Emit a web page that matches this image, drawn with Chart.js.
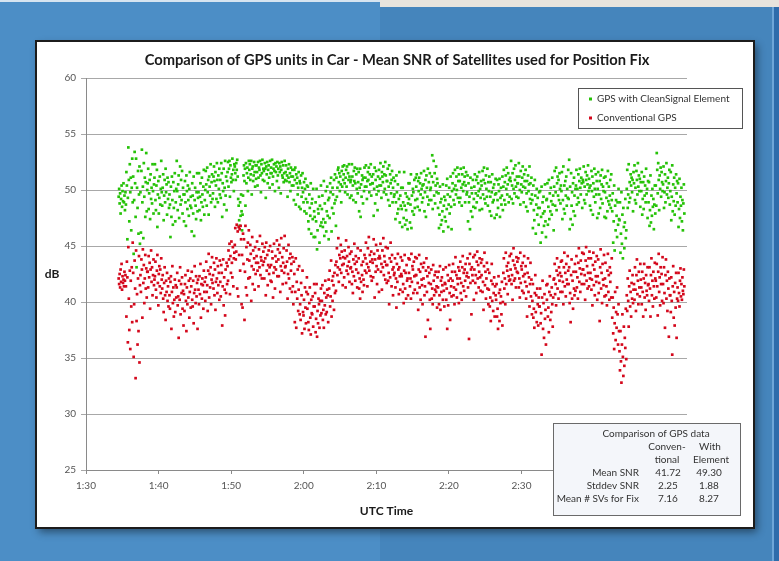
<!DOCTYPE html>
<html>
<head>
<meta charset="utf-8">
<script src="https://cdn.jsdelivr.net/npm/chart.js@4.4.1/dist/chart.umd.min.js"></script>
<style>
  html, body { margin: 0; padding: 0; background: #4a8cc4; }
  canvas { display: block; }
</style>
</head>
<body>
<canvas id="snrChart" width="779" height="561"></canvas>
<script>
const chartTitle = 'Comparison of GPS units in Car - Mean SNR of Satellites used for Position Fix';
const seriesNames = ['GPS with CleanSignal Element', 'Conventional GPS'];

// log starts 1:34:30 UTC (minutes after midnight), one sample every 4 s
const startMinute = 94.5;
const stepMinute = 1 / 15;

// mean SNR (dB), one line per minute of the log
const cleanSnr = [
  49.4,50.1,48.8,49.7,47.9,49.2,50.4,48.5,49.9,49.0,50.6,48.9,49.5,48.2,49.8,
  48.7,51.6,50.4,45.6,49.3,53.8,50.9,47.2,52.3,49.8,51.1,46.4,50.2,52.8,48.9,
  51.2,44.3,49.1,53.4,50.6,47.6,52.8,43.1,50.2,48.4,51.7,46.1,49.6,52.1,45.2,
  49.8,46.2,51.7,53.6,48.9,50.3,45.7,52.4,49.4,51.1,47.6,50.7,53.3,48.1,50.0,
  50.6,51.9,48.3,49.7,50.9,47.4,51.4,49.2,50.2,48.8,52.3,49.9,47.9,50.5,51.1,
  52.3,49.1,48.2,50.4,51.8,46.7,49.6,50.8,47.9,49.3,51.2,48.7,50.1,52.6,49.8,
  48.6,50.2,51.4,47.3,49.5,50.9,48.9,51.9,49.8,50.5,47.8,51.1,49.2,50.7,48.4,
  49.6,48.7,45.8,50.3,47.6,51.2,49.1,46.9,50.7,48.4,49.9,51.5,47.2,48.9,50.1,
  52.6,49.9,48.2,50.5,51.3,47.5,49.4,52.1,48.7,50.9,49.1,51.7,47.9,50.2,49.6,
  47.2,49.6,50.8,48.9,46.8,51.3,49.9,48.3,50.4,49.1,47.7,50.1,51.6,48.6,49.4,
  48.4,46.3,50.6,49.5,47.9,51.2,45.9,49.1,50.2,48.6,47.4,49.8,51.5,48.1,49.3,
  49.8,51.5,48.2,49.4,50.6,47.3,48.9,51.1,49.6,48.5,50.3,51.8,47.8,49.1,50.0,
  51.7,50.5,48.6,52.0,49.8,50.9,47.8,51.2,50.3,49.5,52.3,48.9,50.7,51.4,49.2,
  49.7,51.2,52.1,50.8,48.5,51.6,50.4,49.2,52.4,50.9,48.9,51.3,50.1,51.9,49.6,
  50.9,49.3,52.4,51.5,47.6,50.6,49.9,51.9,48.7,50.2,52.6,49.5,51.2,48.2,50.8,
  51.6,52.5,50.3,51.9,52.6,49.4,52.2,51.1,50.7,51.4,52.8,50.9,51.8,49.9,52.3,
  52.1,51.5,50.9,52.4,51.8,52.7,51.2,49.2,48.6,47.3,46.8,48.9,47.7,49.6,48.1,
  46.4,47.8,49.5,51.3,52.2,50.8,51.9,48.6,52.4,50.6,51.5,52.0,49.9,51.1,52.6,
  51.8,52.3,50.9,51.4,52.6,49.6,51.9,52.1,50.8,51.3,52.5,51.6,50.3,52.2,51.0,
  52.2,51.6,50.4,52.5,51.1,52.0,51.8,52.6,51.3,49.8,52.3,51.5,52.7,50.9,51.9,
  51.7,50.8,52.4,51.9,49.3,52.1,51.4,52.5,50.6,51.8,52.2,51.1,50.2,52.6,51.5,
  52.0,51.5,52.7,50.5,51.2,51.9,52.3,51.7,49.9,52.4,51.6,52.1,50.8,52.5,51.3,
  51.9,50.2,52.4,51.6,52.1,49.7,51.8,52.5,51.3,51.1,52.2,50.7,51.5,52.6,50.9,
  51.6,52.2,50.8,51.3,49.4,51.9,51.1,52.3,50.7,51.5,49.9,52.0,51.2,50.4,51.8,
  51.2,50.4,49.1,51.8,50.9,52.0,48.7,51.4,50.6,51.1,49.6,50.2,51.6,48.5,50.8,
  50.6,48.3,51.3,49.4,50.2,51.5,49.8,48.9,50.7,48.1,50.1,51.0,49.2,47.9,50.4,
  48.9,50.3,47.2,46.5,49.6,48.4,47.7,50.6,46.1,48.8,49.2,47.4,50.1,45.8,48.1,
  47.6,45.8,48.9,47.2,50.1,44.7,46.4,48.3,47.9,49.4,45.3,48.6,46.8,50.4,47.1,
  48.3,49.5,46.7,47.4,50.8,45.9,48.8,47.1,49.9,46.3,48.1,50.3,47.7,49.1,45.6,
  49.3,47.5,50.6,49.8,51.1,46.3,48.4,50.2,49.6,47.9,50.9,48.8,51.4,49.1,46.8,
  51.1,49.4,50.2,51.8,52.0,50.7,51.5,49.9,51.2,50.5,48.9,51.7,50.3,52.1,50.9,
  51.4,52.2,50.6,49.8,51.1,51.8,50.3,52.1,49.6,51.5,50.9,52.3,51.2,49.3,50.7,
  50.9,49.5,52.3,51.2,50.4,49.1,51.7,50.8,52.0,50.6,48.9,51.4,50.1,51.9,49.7,
  50.7,51.6,48.1,50.2,51.9,47.6,50.5,49.4,51.3,50.9,48.8,51.1,49.9,52.0,50.3,
  51.1,52.2,50.3,49.2,50.8,51.6,50.9,52.0,49.8,51.4,50.5,52.3,49.5,51.2,50.6,
  50.6,51.4,47.7,50.1,52.0,48.8,50.9,51.7,49.6,50.3,48.2,51.2,49.9,51.8,50.4,
  51.0,52.4,50.4,49.3,51.6,51.2,50.7,52.1,49.8,51.4,50.1,52.5,51.3,49.6,50.8,
  50.8,51.9,49.1,50.3,52.2,48.6,51.4,50.6,49.7,50.9,51.7,48.9,50.2,51.1,49.4,
  49.6,50.8,47.4,48.9,51.3,49.8,47.9,50.5,48.3,49.2,51.6,47.1,49.5,48.6,50.2,
  48.3,46.7,50.2,48.9,47.5,51.6,48.6,46.9,49.7,48.2,47.3,49.4,46.5,48.8,50.6,
  49.2,50.6,47.1,48.7,51.4,46.6,49.5,48.1,50.1,49.8,47.8,50.9,48.4,49.1,51.1,
  50.3,51.4,49.2,48.5,50.8,49.9,51.1,48.2,50.6,49.6,51.5,50.1,48.9,50.4,49.3,
  50.5,51.7,48.1,49.8,50.9,47.6,51.3,50.2,49.4,51.9,48.7,50.7,49.1,51.5,50.0,
  50.2,49.1,51.2,53.1,48.3,50.7,52.6,49.5,51.5,48.8,50.4,52.1,49.8,51.0,50.6,
  48.4,49.7,46.6,47.8,50.3,48.9,46.9,49.2,47.3,48.1,50.5,46.3,48.6,49.4,47.6,
  49.1,47.2,50.4,48.3,51.0,49.6,46.7,48.7,50.2,47.9,49.4,51.2,48.5,46.5,49.9,
  50.6,51.5,49.1,50.1,48.7,51.8,50.4,49.6,51.2,50.0,52.0,49.3,50.8,51.4,48.9,
  50.8,49.3,51.9,50.2,48.6,51.4,50.5,49.9,52.0,50.7,51.2,48.9,50.4,51.6,49.6,
  49.8,51.3,47.2,50.6,48.9,49.4,46.5,51.1,48.1,50.2,49.7,47.6,50.9,48.5,49.2,
  50.3,51.4,48.4,49.7,50.9,48.9,51.2,49.5,50.6,49.9,51.6,48.2,50.1,49.3,50.8,
  50.4,48.3,51.7,49.6,50.9,52.0,49.2,50.6,48.8,51.3,50.1,49.4,51.9,48.6,50.7,
  49.9,51.2,48.1,49.4,50.7,47.7,49.8,51.4,48.9,50.2,49.1,50.5,47.5,49.6,51.0,
  49.7,47.8,50.9,49.1,48.4,50.5,49.9,51.0,47.6,49.3,50.2,48.7,49.5,51.2,48.2,
  50.3,51.8,49.1,50.7,48.7,51.3,50.1,52.0,49.6,50.5,51.5,48.9,50.9,49.4,51.1,
  50.8,52.6,49.2,50.4,51.5,48.8,50.1,51.9,49.7,50.9,52.2,50.3,49.4,51.2,50.6,
  50.6,49.3,52.4,51.2,50.0,48.7,51.7,50.5,49.8,51.1,52.1,50.3,48.9,51.4,50.8,
  50.2,51.8,48.5,49.7,50.8,48.1,51.3,49.9,50.5,52.1,49.2,50.6,48.8,51.1,49.6,
  49.1,46.6,50.4,48.2,47.3,50.9,49.5,46.1,48.7,50.1,47.8,49.3,48.4,46.9,49.8,
  48.4,49.9,45.3,47.6,50.3,46.2,48.9,47.9,49.4,46.8,48.1,50.5,47.2,45.8,49.1,
  49.2,50.6,46.9,48.5,50.9,47.4,49.7,48.1,50.2,49.0,47.8,51.1,48.7,49.5,46.4,
  50.3,51.7,48.6,49.8,52.0,48.2,50.6,51.2,49.5,50.9,49.1,51.5,50.1,48.8,50.4,
  49.9,51.6,47.4,49.1,52.1,48.3,50.4,47.9,50.8,49.5,51.2,48.6,50.1,49.3,51.8,
  49.2,52.7,46.5,50.3,47.4,51.5,48.6,49.8,46.9,50.6,48.1,51.1,49.5,47.7,50.1,
  50.4,51.8,48.7,50.1,49.3,51.4,48.9,50.8,51.9,50.2,49.6,51.1,50.6,48.4,50.9,
  50.7,52.1,49.1,50.3,48.8,51.6,50.9,49.6,51.3,50.5,52.2,49.9,51.0,50.2,48.6,
  50.4,48.2,51.7,49.9,51.2,47.8,50.6,49.4,51.9,50.1,48.9,51.4,49.6,50.8,47.5,
  50.1,51.6,47.9,49.6,50.8,48.4,51.3,49.2,50.5,51.8,48.8,50.3,49.9,51.1,47.6,
  49.8,51.2,47.5,49.3,50.6,48.1,51.7,49.0,50.3,48.7,49.5,50.9,48.4,51.4,49.1,
  48.1,49.7,45.3,47.2,50.4,44.6,48.6,46.4,49.1,47.7,45.8,48.9,46.9,50.1,47.4,
  47.3,48.9,44.4,46.1,49.8,45.2,47.8,43.9,48.4,46.7,44.8,47.1,49.2,45.7,46.4,
  50.1,51.8,48.4,49.6,52.3,48.9,50.7,49.3,51.4,50.4,51.1,49.8,50.9,48.1,51.6,
  50.6,52.2,49.1,50.2,48.8,51.7,50.9,49.6,52.4,50.3,51.3,49.9,51.0,48.5,50.7,
  49.9,51.6,47.8,49.2,50.7,48.3,51.2,49.5,50.4,48.9,51.9,49.7,50.1,47.5,50.8,
  48.9,50.7,46.8,48.2,51.3,47.1,49.5,47.7,50.1,48.5,49.2,46.5,48.7,50.4,47.9,
  50.4,48.6,53.3,51.8,49.7,52.4,50.9,48.2,51.3,50.1,52.0,49.4,51.6,50.7,49.9,
  50.5,52.1,48.4,49.8,51.4,48.9,50.8,52.4,49.6,50.2,51.1,49.3,50.6,51.8,48.7,
  49.9,51.6,47.3,49.4,52.2,48.1,50.5,49.0,51.1,47.8,50.2,48.6,51.4,49.7,50.8,
  48.9,50.6,46.7,48.3,51.0,47.5,49.4,48.6,50.2,47.2,49.1,46.4,48.8,50.5,47.9
];

const convSnr = [
  42.1,41.6,42.5,41.3,42.9,41.8,43.4,41.1,42.3,41.7,42.0,41.4,42.7,41.9,42.4,
  41.4,38.7,43.6,42.2,36.4,44.9,40.3,37.5,42.8,35.8,41.9,39.6,43.1,38.2,45.3,
  42.6,35.1,39.8,43.7,41.2,33.2,44.6,38.3,40.7,36.2,42.1,37.4,44.1,34.6,41.5,
  42.4,40.9,43.8,42.9,38.6,44.7,41.7,43.3,39.9,42.1,44.2,41.2,43.0,40.4,42.7,
  42.7,41.3,44.1,42.2,43.5,39.4,42.9,44.6,41.8,43.1,40.6,42.4,43.8,41.5,42.0,
  42.3,43.6,41.1,40.4,42.8,44.2,41.7,39.7,42.5,43.2,41.4,42.9,40.8,43.9,42.0,
  41.2,42.4,40.3,39.1,41.7,43.1,40.6,38.4,41.9,40.9,42.6,40.1,41.4,39.6,42.1,
  40.6,39.4,41.8,42.3,37.6,40.9,43.2,39.9,41.3,38.7,40.2,42.0,39.1,41.5,40.4,
  41.3,42.6,39.7,40.5,36.8,41.9,40.2,43.1,38.9,41.6,40.8,42.2,39.4,41.0,37.9,
  40.7,39.2,41.6,42.4,40.1,37.4,41.3,39.8,42.8,40.4,41.9,38.6,40.9,42.1,39.5,
  41.4,42.7,40.2,39.6,41.9,38.1,40.8,43.2,41.1,39.9,42.3,40.5,41.7,37.6,42.0,
  41.1,39.8,42.3,40.7,43.4,38.6,41.6,40.3,42.1,41.5,39.4,42.8,40.9,41.8,40.1,
  42.2,43.6,40.9,41.5,39.2,42.8,44.3,40.4,42.5,41.3,43.1,39.8,42.0,44.0,41.7,
  42.4,41.2,43.5,40.6,42.9,39.3,41.8,43.9,42.1,40.8,43.2,41.5,42.6,40.2,43.7,
  41.8,40.5,43.3,42.6,37.9,41.4,43.8,39.7,42.2,41.1,38.8,42.9,40.8,43.5,41.6,
  43.2,41.9,44.6,43.8,45.2,40.7,44.1,42.6,45.4,43.5,42.2,44.9,41.4,43.9,44.4,
  45.1,46.6,43.8,44.5,46.9,41.2,46.3,40.5,46.7,44.2,46.5,42.8,46.8,45.6,39.8,
  44.2,39.5,46.1,43.4,45.6,38.4,42.7,46.8,41.3,44.9,40.6,43.8,45.3,42.1,46.4,
  43.7,42.2,45.1,44.3,40.1,43.2,45.8,41.6,44.6,42.9,43.9,41.1,44.9,42.5,43.5,
  44.1,45.4,42.8,43.5,41.4,44.7,43.1,45.9,42.4,44.0,43.7,42.1,45.2,43.3,44.5,
  43.6,42.1,44.9,43.9,40.6,45.3,42.8,44.2,41.5,43.3,44.6,42.5,43.1,45.0,41.9,
  43.3,41.8,44.5,43.9,40.4,42.6,45.2,43.1,41.2,44.1,42.9,43.6,45.5,42.3,44.7,
  43.8,42.3,45.1,44.4,40.9,43.2,45.7,42.8,44.0,41.6,43.5,44.8,42.6,45.9,43.1,
  43.2,41.7,44.6,43.6,40.3,42.5,45.1,42.1,43.9,41.2,44.3,42.8,43.4,40.9,44.0,
  41.4,39.8,43.6,42.5,38.2,40.9,43.9,37.7,41.8,40.3,42.9,39.2,41.1,43.2,38.9,
  39.8,38.4,41.7,40.6,37.2,42.8,39.1,38.8,40.2,37.6,41.3,39.5,38.1,40.9,42.2,
  39.4,40.7,38.2,37.5,39.9,41.3,38.6,37.1,40.2,39.0,38.9,40.5,37.8,39.6,41.6,
  39.6,40.8,37.3,38.5,41.6,36.9,39.2,38.1,40.3,39.8,37.7,40.1,38.8,41.2,39.0,
  40.1,41.5,38.4,39.3,37.7,40.8,39.7,41.9,38.9,40.4,39.1,41.1,40.6,38.2,42.0,
  41.2,42.8,39.6,40.5,43.7,38.7,41.9,40.1,42.3,41.5,39.3,42.6,40.8,43.3,41.0,
  43.6,44.8,42.4,43.1,45.7,41.8,44.2,42.9,43.9,45.1,42.6,44.5,43.3,41.5,44.0,
  43.4,42.2,44.6,43.9,41.3,45.5,42.8,44.1,43.2,42.5,44.9,43.6,41.8,44.3,43.0,
  43.1,44.5,41.6,42.7,40.8,43.8,42.3,45.2,43.4,41.9,44.1,42.9,43.6,41.3,44.8,
  42.6,43.9,41.2,42.1,40.3,44.6,41.8,43.3,42.4,40.9,43.6,42.0,41.5,44.2,42.8,
  43.9,45.3,42.6,43.4,41.4,44.8,43.1,45.8,42.8,44.2,43.6,42.3,44.5,41.9,43.8,
  43.5,42.2,45.6,44.3,40.4,43.8,42.7,45.1,43.2,41.6,44.6,42.9,43.9,40.9,44.1,
  43.9,45.2,42.7,43.4,41.1,44.6,43.1,45.7,42.4,44.1,43.6,42.0,44.9,43.3,41.7,
  43.3,44.8,41.9,42.6,39.8,43.9,42.2,45.3,43.6,41.4,44.2,42.9,40.6,43.1,42.4,
  42.6,43.9,41.3,42.1,39.5,43.4,41.8,44.3,42.9,40.7,43.1,42.3,41.1,44.0,42.5,
  42.3,43.7,40.9,41.6,39.9,42.8,44.2,41.2,42.6,40.3,43.3,41.9,42.1,40.6,43.9,
  42.6,43.8,41.4,42.1,40.3,44.3,41.8,43.2,42.9,40.8,43.6,42.3,41.1,44.0,42.4,
  42.4,43.9,40.8,41.7,39.3,42.9,44.2,41.3,42.7,40.2,43.4,42.0,41.5,39.8,43.1,
  42.1,43.5,40.6,41.4,36.9,42.8,43.9,40.9,42.3,38.4,43.1,41.7,42.6,40.2,37.6,
  41.6,42.9,40.3,41.2,39.8,43.3,41.9,40.6,42.4,41.1,42.7,40.9,41.4,39.5,42.2,
  41.3,42.7,39.8,40.6,43.2,39.3,41.9,40.9,42.2,41.5,40.2,42.9,41.0,39.6,41.7,
  41.6,43.1,40.2,41.2,37.6,42.4,39.7,41.9,43.3,40.8,38.4,42.1,41.4,40.5,42.7,
  41.9,43.4,40.6,41.3,39.8,42.7,44.0,41.1,42.4,40.4,42.1,41.6,43.1,39.9,42.8,
  42.1,43.6,40.8,41.7,40.2,43.1,44.1,41.4,42.6,41.0,42.9,41.9,43.4,40.5,42.3,
  42.6,43.9,41.3,42.2,36.7,43.4,44.3,41.7,42.9,38.9,43.1,42.4,41.9,44.0,40.2,
  42.9,44.2,41.7,42.4,40.8,43.6,44.5,42.1,43.3,41.3,42.7,43.9,42.2,41.0,43.5,
  42.4,43.8,40.9,41.8,39.3,43.2,44.4,41.5,42.7,40.3,42.1,43.5,41.2,42.9,39.8,
  41.1,42.6,39.6,40.4,38.3,41.9,43.4,40.1,41.6,39.2,40.8,42.2,38.7,41.4,40.6,
  40.2,41.6,38.7,39.4,37.6,42.3,40.8,38.3,41.1,39.9,40.5,38.9,41.8,37.9,40.0,
  42.6,43.9,41.2,42.1,39.8,44.4,41.6,43.2,42.8,40.7,43.5,42.3,41.9,44.1,42.0,
  42.9,44.3,41.6,42.4,40.2,43.7,44.8,41.9,43.3,42.1,43.0,41.3,44.0,42.7,43.6,
  42.6,43.9,41.3,42.1,40.4,44.4,41.7,43.2,42.9,41.0,43.5,42.3,40.8,44.1,42.5,
  41.8,43.2,40.3,41.4,38.7,42.6,43.9,40.9,42.2,39.6,41.6,43.5,40.5,42.0,38.9,
  40.1,41.6,38.6,39.4,37.7,40.8,42.4,39.1,40.6,38.2,41.2,39.8,37.9,40.4,39.6,
  39.6,41.2,38.1,39.0,35.3,40.4,41.9,37.6,39.9,36.8,40.7,38.5,39.3,36.2,41.5,
  40.2,41.6,38.7,39.5,37.3,40.9,42.3,38.4,40.6,39.1,41.3,39.8,37.8,40.4,42.0,
  42.1,43.4,40.7,41.6,39.7,42.8,43.9,41.2,42.4,40.3,43.1,41.9,42.6,40.9,43.6,
  42.3,43.7,40.9,41.8,39.8,43.1,44.4,41.4,42.6,40.5,43.4,42.0,41.6,44.1,42.8,
  41.6,43.1,39.9,40.8,38.2,42.4,43.8,40.3,41.9,39.4,42.7,41.2,40.6,43.4,41.0,
  42.7,44.1,41.3,42.2,40.3,43.5,44.8,41.8,43.0,40.9,43.7,42.5,41.6,44.4,42.9,
  42.9,44.3,41.6,42.4,40.2,43.7,44.9,41.9,43.2,41.2,42.6,43.9,41.4,44.5,42.1,
  42.6,43.9,41.1,42.0,39.7,43.3,44.4,41.5,42.9,40.6,43.6,42.3,41.8,44.1,40.2,
  42.3,43.8,40.8,41.7,38.3,43.1,44.7,41.2,42.6,39.9,43.4,42.0,41.5,44.2,40.5,
  42.1,43.5,40.6,41.4,39.7,42.8,44.3,40.9,42.4,40.2,43.1,41.8,42.6,40.4,43.9,
  38.6,40.4,37.2,39.5,35.8,38.1,40.9,36.6,39.1,37.7,41.3,38.9,36.2,39.8,37.4,
  35.6,33.9,37.4,34.7,32.8,36.2,38.9,35.1,33.4,37.8,34.3,36.8,35.9,39.4,34.9,
  40.6,39.2,42.1,40.1,37.8,41.4,42.8,39.6,40.9,38.7,41.7,40.3,42.4,39.9,41.1,
  41.6,40.2,43.1,41.1,39.2,42.4,43.8,40.7,41.9,39.8,42.7,41.3,40.5,43.4,42.0,
  41.3,39.8,42.7,40.9,38.7,42.1,43.4,40.4,41.7,39.3,42.4,41.0,40.6,43.1,41.5,
  41.6,40.1,43.1,41.2,38.7,42.4,43.9,40.6,41.9,39.6,42.7,41.4,40.3,43.5,42.1,
  41.9,40.4,43.4,41.4,38.8,42.7,44.3,40.9,42.2,39.7,43.1,41.6,42.5,40.1,44.0,
  41.6,39.9,43.1,40.8,37.7,42.4,43.8,40.3,41.9,39.2,42.7,41.2,36.9,42.1,40.6,
  40.6,39.1,42.2,40.1,35.3,41.4,43.2,38.6,40.9,37.9,41.7,39.5,42.6,36.8,40.3,
  41.3,40.1,42.6,40.8,39.6,41.9,43.0,40.5,41.6,40.2,42.2,41.0,40.7,42.9,41.4
];

const xTickValues = [90, 100, 110, 120, 130, 140, 150, 160, 170];
const xTickLabels = ['1:30', '1:40', '1:50', '2:00', '2:10', '2:20', '2:30', '2:40', '2:50'];

// summary box in the lower right corner
const statNames = ['Mean SNR', 'Stddev SNR', 'Mean # SVs for Fix'];
const statConventional = ['41.72', '2.25', '7.16'];
const statElement = ['49.30', '1.88', '8.27'];

const GREEN = 'rgb(38, 194, 8)';
const RED = 'rgb(212, 8, 28)';
const FONT = 'Lato, "Open Sans", sans-serif';

function toPoints(values) {
  return values.map((v, i) => ({ x: startMinute + i * stepMinute, y: v }));
}

// blue window background + white chart frame
const backdrop = {
  id: 'backdrop',
  beforeDraw(chart) {
    const ctx = chart.ctx;
    ctx.save();
    ctx.fillStyle = '#4c8ec6';
    ctx.fillRect(0, 0, 380, 561);
    ctx.fillStyle = '#4585bc';
    ctx.fillRect(380, 0, 399, 561);
    ctx.fillStyle = '#e7e4dd';
    ctx.fillRect(380, 0, 399, 7);
    ctx.fillStyle = '#d6e4f0';
    ctx.fillRect(0, 0, 380, 2);
    ctx.fillStyle = '#6ea6d8';
    ctx.fillRect(772, 7, 2, 554);
    ctx.fillStyle = '#2e6cab';
    ctx.fillRect(774, 7, 5, 554);

    ctx.shadowColor = 'rgba(0, 0, 0, 0.45)';
    ctx.shadowBlur = 8;
    ctx.shadowOffsetX = 3;
    ctx.shadowOffsetY = 4;
    ctx.fillStyle = '#ffffff';
    ctx.fillRect(36, 41, 718, 487);
    ctx.shadowColor = 'transparent';
    ctx.strokeStyle = '#1c1c1c';
    ctx.lineWidth = 2;
    ctx.strokeRect(36, 41, 718, 487);
    ctx.restore();
  }
};

// title, axis titles, legend and the stats table
const annotate = {
  id: 'annotate',
  afterDraw(chart) {
    const ctx = chart.ctx;
    const area = chart.chartArea;
    ctx.save();
    ctx.textBaseline = 'middle';

    // title, stretched to the width it has in the picture
    ctx.font = 'bold 20px ' + FONT;
    const size = 20 * 505 / ctx.measureText(chartTitle).width;
    ctx.font = 'bold ' + size.toFixed(2) + 'px ' + FONT;
    ctx.fillStyle = '#1a1a1a';
    ctx.textAlign = 'center';
    ctx.fillText(chartTitle, 397, 60);

    ctx.font = 'bold 12px ' + FONT;
    ctx.fillText('dB', 52, 274);
    ctx.fillText('UTC Time', (area.left + area.right) / 2, 511);

    // legend
    ctx.fillStyle = '#ffffff';
    ctx.fillRect(578.5, 88.5, 164, 40);
    ctx.strokeStyle = '#555555';
    ctx.lineWidth = 1;
    ctx.strokeRect(578.5, 88.5, 164, 40);
    ctx.font = '10px ' + FONT;
    ctx.textAlign = 'left';
    [GREEN, RED].forEach((c, i) => {
      const y = 99 + i * 19;
      ctx.fillStyle = c;
      ctx.fillRect(589, y - 1.5, 3, 3);
      ctx.fillStyle = '#333333';
      ctx.fillText(seriesNames[i], 597, y);
    });

    // stats table
    ctx.fillStyle = '#f4f6fa';
    ctx.fillRect(553.5, 423.5, 187, 92);
    ctx.strokeStyle = '#6a6a6a';
    ctx.strokeRect(553.5, 423.5, 187, 92);
    ctx.fillStyle = '#333333';
    ctx.font = '10px ' + FONT;
    ctx.textAlign = 'center';
    ctx.fillText('Comparison of GPS data', 656, 434);
    ctx.fillText('Conven-', 667, 447);
    ctx.fillText('tional', 667, 460);
    ctx.fillText('With', 710, 447);
    ctx.fillText('Element', 711, 460);
    statNames.forEach((name, i) => {
      const y = 472.5 + i * 13;
      ctx.textAlign = 'right';
      ctx.fillText(name, 639, y);
      ctx.textAlign = 'center';
      ctx.fillText(statConventional[i], 668, y);
      ctx.fillText(statElement[i], 709, y);
    });
    ctx.restore();
  }
};

new Chart(document.getElementById('snrChart'), {
  type: 'scatter',
  data: {
    datasets: [
      { label: seriesNames[0], data: toPoints(cleanSnr), backgroundColor: GREEN, order: 1 },
      { label: seriesNames[1], data: toPoints(convSnr), backgroundColor: RED, order: 0 }
    ]
  },
  options: {
    responsive: false,
    animation: false,
    devicePixelRatio: 1,
    events: [],
    layout: { padding: { left: 0, top: 78, right: 92, bottom: 0 } },
    elements: { point: { pointStyle: 'rect', radius: 1.9, borderWidth: 0, hoverRadius: 0 } },
    plugins: {
      legend: { display: false },
      tooltip: { enabled: false }
    },
    scales: {
      x: {
        type: 'linear',
        min: 90,
        max: 172.8,
        afterFit: (s) => { s.height = 91; },
        afterBuildTicks: (s) => { s.ticks = xTickValues.map(v => ({ value: v })); },
        ticks: {
          callback: (v, i) => xTickLabels[i],
          autoSkip: false,
          maxRotation: 0,
          padding: 6,
          color: '#555555',
          font: { family: FONT, size: 10 }
        },
        grid: { drawOnChartArea: false, tickLength: 4, color: '#8a8a8a' },
        border: { color: '#8a8a8a' }
      },
      y: {
        min: 25,
        max: 60,
        afterFit: (s) => { s.width = 86; },
        ticks: {
          stepSize: 5,
          padding: 5,
          color: '#555555',
          font: { family: FONT, size: 10 }
        },
        grid: { color: '#a8a8a8', tickLength: 5 },
        border: { color: '#8a8a8a' }
      }
    }
  },
  plugins: [backdrop, annotate]
});
</script>
</body>
</html>
